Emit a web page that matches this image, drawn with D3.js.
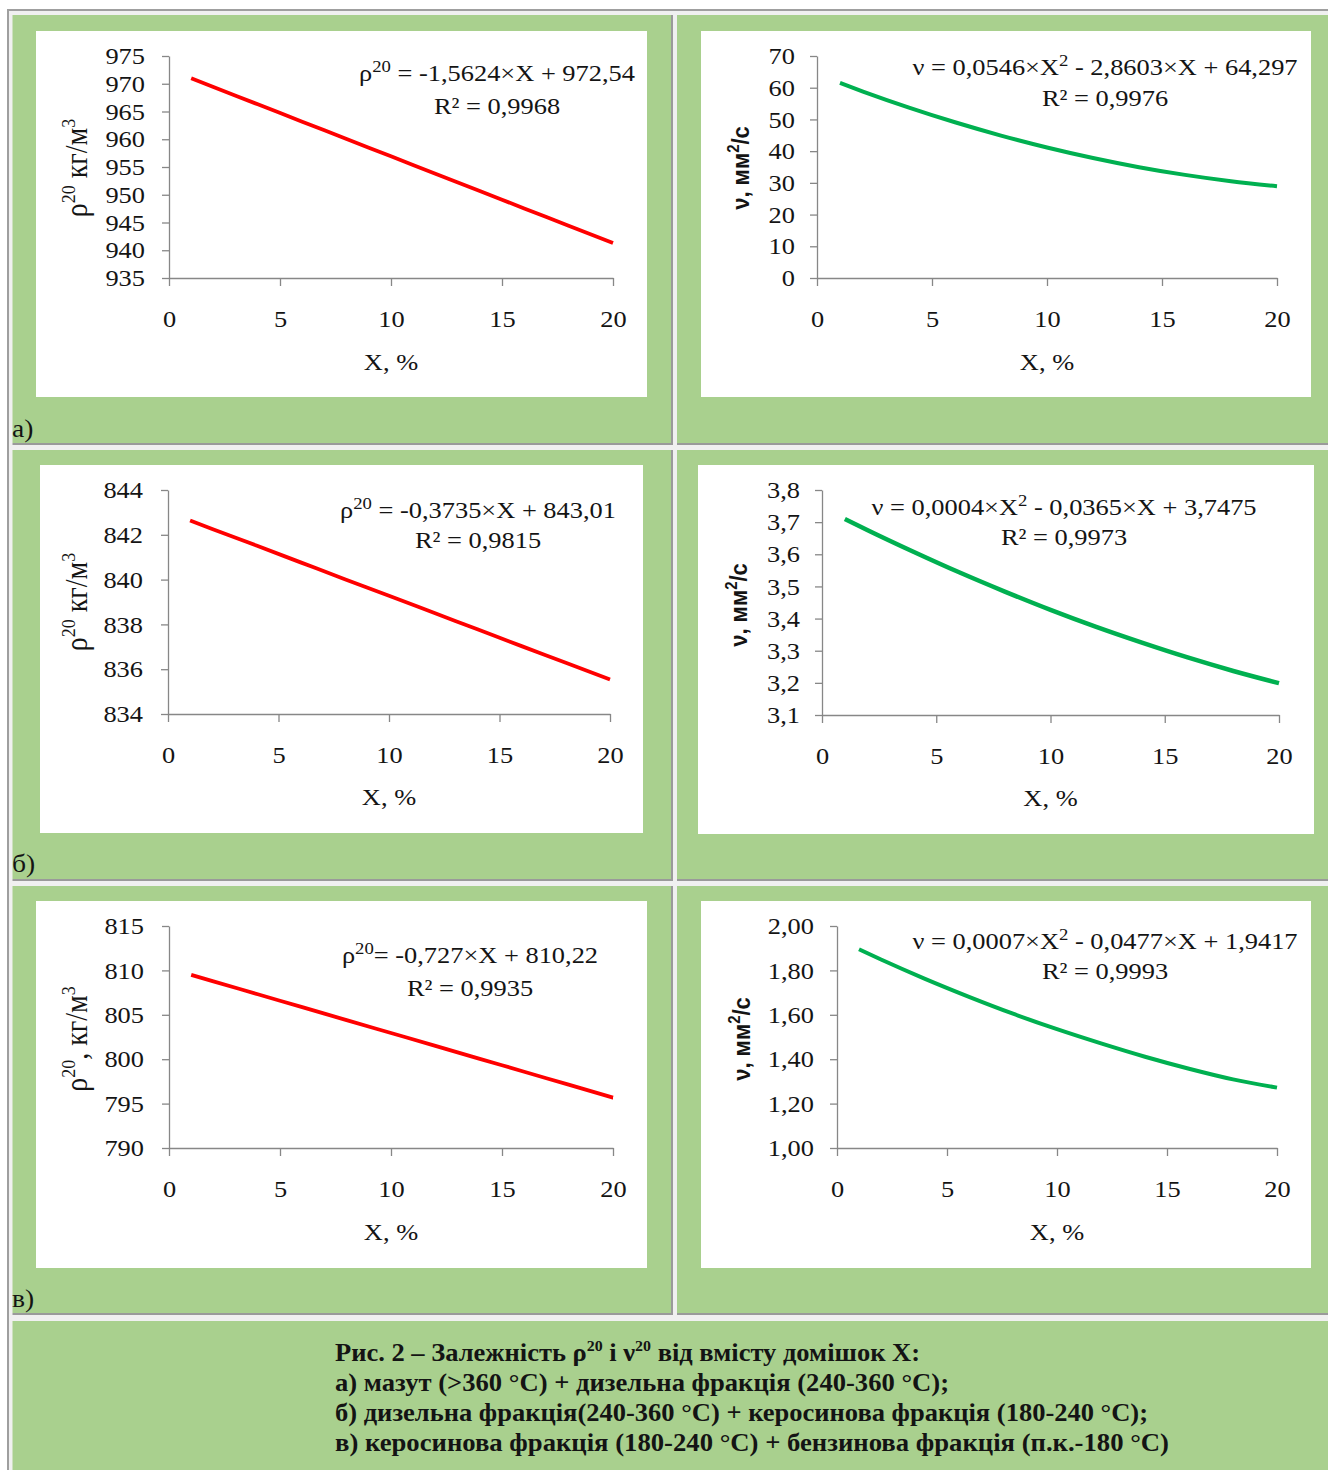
<!DOCTYPE html>
<html>
<head>
<meta charset="utf-8">
<script src="https://cdn.jsdelivr.net/npm/d3@7/dist/d3.min.js"></script>
<style>
  body { margin: 0; background: #fff; }
  svg text { font-family: "Liberation Serif", "Times New Roman", serif; fill: #141414; }
</style>
</head>
<body>
<svg id="fig" width="1328" height="1470"></svg>
<script>
// X, % values along each trend curve
var xs = [1, 2, 4, 6, 8, 10, 12, 14, 16, 18, 20];

// a) mazut + diesel
var rhoA = [970.98, 969.42, 966.29, 963.17, 960.04, 956.92, 953.79, 950.67, 947.54, 944.42, 941.29];
var nuA  = [61.49, 58.79, 53.73, 49.10, 44.91, 41.16, 37.84, 34.95, 32.51, 30.51, 28.93];
// b) diesel + kerosene
var rhoB = [842.64, 842.26, 841.52, 840.77, 840.02, 839.28, 838.53, 837.78, 837.03, 836.29, 835.54];
var nuB  = [3.710, 3.675, 3.608, 3.544, 3.484, 3.427, 3.374, 3.325, 3.279, 3.237, 3.199];
// c) kerosene + gasoline
var rhoC = [809.49, 808.77, 807.31, 805.86, 804.40, 802.95, 801.50, 800.04, 798.59, 797.13, 795.68];
var nuC  = [1.895, 1.849, 1.762, 1.681, 1.605, 1.535, 1.471, 1.411, 1.357, 1.309, 1.272];

// tick labels
var xTicks = [0, 5, 10, 15, 20];
var rhoATicks = [935, 940, 945, 950, 955, 960, 965, 970, 975];
var nuATicks  = [0, 10, 20, 30, 40, 50, 60, 70];
var rhoBTicks = [834, 836, 838, 840, 842, 844];
var nuBTicks  = [3.1, 3.2, 3.3, 3.4, 3.5, 3.6, 3.7, 3.8];
var rhoCTicks = [790, 795, 800, 805, 810, 815];
var nuCTicks  = [1.0, 1.2, 1.4, 1.6, 1.8, 2.0];

// trendline labels
var eqA = ["ρ^{20} = -1,5624×X + 972,54", "R² = 0,9968"];
var eqA2 = ["ν = 0,0546×X^{2} - 2,8603×X + 64,297", "R² = 0,9976"];
var eqB = ["ρ^{20} = -0,3735×X + 843,01", "R² = 0,9815"];
var eqB2 = ["ν = 0,0004×X^{2} - 0,0365×X + 3,7475", "R² = 0,9973"];
var eqC = ["ρ^{20}= -0,727×X + 810,22", "R² = 0,9935"];
var eqC2 = ["ν = 0,0007×X^{2} - 0,0477×X + 1,9417", "R² = 0,9993"];

var caption = [
  "Рис. 2 – Залежність ρ^{20} і ν^{20} від вмісту домішок X:",
  "а) мазут (>360 °С) + дизельна фракція (240-360 °С);",
  "б) дизельна фракція(240-360 °С) + керосинова фракція (180-240 °С);",
  "в) керосинова фракція (180-240 °С) + бензинова фракція (п.к.-180 °С)"
];
var rowLabels = ["а)", "б)", "в)"];

var S = 1.1; // text in the picture is a bit wider than normal Times
var fmtInt = function(d) { return String(d); };
var fmt1 = function(d) { return d3.format(".1f")(d).replace(".", ","); };
var fmt2 = function(d) { return d3.format(".2f")(d).replace(".", ","); };

var svg = d3.select("#fig");

// ---- table frame ----
svg.append("rect").attr("x", 9).attr("y", 11).attr("width", 1319).attr("height", 1459).attr("fill", "#f0f0f0");
svg.append("rect").attr("x", 7).attr("y", 9).attr("width", 1321).attr("height", 2).attr("fill", "#9f9f9f");
svg.append("rect").attr("x", 7).attr("y", 9).attr("width", 2).attr("height", 1461).attr("fill", "#9f9f9f");

var cells = [
  [12.5, 671, 15, 443], [677, 1330, 15, 443],
  [12.5, 671, 450, 879], [677, 1330, 450, 879],
  [12.5, 671, 886, 1313], [677, 1330, 886, 1313],
  [12.5, 1330, 1321, 1472]
];
cells.forEach(function(c) {
  svg.append("rect").attr("x", c[0]).attr("y", c[2]).attr("width", c[1] - c[0]).attr("height", c[3] - c[2]).attr("fill", "#a9d08e");
  svg.append("rect").attr("x", c[0]).attr("y", c[3]).attr("width", c[1] - c[0] + 2).attr("height", 2).attr("fill", "#9a9a9a");
  svg.append("rect").attr("x", c[1]).attr("y", c[2]).attr("width", 2).attr("height", c[3] - c[2] + 2).attr("fill", "#9a9a9a");
});

// text with ^{sup} parts
function richText(sel, str, supSize, shift) {
  var parts = str.split(/\^\{([^}]*)\}/);
  var up = false;
  parts.forEach(function(p, i) {
    if (p === "") { return; }
    if (i % 2 === 1) {
      sel.append("tspan").attr("font-size", supSize).attr("dy", -shift).text(p);
      up = true;
    } else {
      var t = sel.append("tspan").text(p);
      if (up) { t.attr("dy", shift); up = false; }
    }
  });
  return sel;
}

function drawPanel(p) {
  var g = svg.append("g");
  g.append("rect").attr("x", p.box[0]).attr("y", p.box[1])
    .attr("width", p.box[2] - p.box[0]).attr("height", p.box[3] - p.box[1]).attr("fill", "#fff");

  var x = d3.scaleLinear().domain([0, 20]).range([p.plot[0], p.plot[1]]);
  var y = d3.scaleLinear().domain([p.yTicks[0], p.yTicks[p.yTicks.length - 1]]).range([p.plot[3], p.plot[2]]);

  var ya = g.append("g").attr("transform", "translate(" + p.plot[0] + ",0)")
    .call(d3.axisLeft(y).tickValues(p.yTicks).tickFormat(p.fmt).tickSize(7).tickSizeOuter(0));
  ya.selectAll("text").attr("x", -p.yPad / S).attr("transform", "scale(" + S + ",1)");

  var xa = g.append("g").attr("transform", "translate(0," + p.plot[3] + ")")
    .call(d3.axisBottom(x).tickValues(xTicks).tickSize(8).tickSizeOuter(0));
  xa.selectAll("text").attr("y", 49).attr("dy", 0).attr("transform", "scale(" + S + ",1)");

  g.selectAll(".domain, .tick line").attr("stroke", "#878787").attr("stroke-width", 1.3);
  g.selectAll(".tick text").attr("font-size", 24).attr("font-family", "Liberation Serif, serif").attr("fill", "#141414");

  var line = d3.line().x(function(d) { return x(d[0]); }).y(function(d) { return y(d[1]); })
    .curve(d3.curveMonotoneX);
  g.append("path").datum(d3.zip(xs, p.vals))
    .attr("fill", "none").attr("stroke", p.color).attr("stroke-width", p.width)
    .attr("stroke-linecap", "butt").attr("d", line);

  // x title
  g.append("text").attr("text-anchor", "middle").attr("font-size", 24)
    .attr("transform", "translate(" + (p.plot[0] + p.plot[1]) / 2 + "," + p.xTitleY + ") scale(" + S + ",1)")
    .text("X, %");

  // y title
  var yt = g.append("text").attr("text-anchor", "middle")
    .attr("transform", "translate(" + p.yTitle[0] + "," + p.yTitle[1] + ") rotate(-90) scale(1," + S + ")");
  if (p.sans) {
    yt.attr("font-size", 22).attr("font-weight", "bold").style("font-family", "'Liberation Sans', Arial, sans-serif");
    richText(yt, p.yLabel, 15, 9);
  } else {
    yt.attr("font-size", 28);
    richText(yt, p.yLabel, 18, 11);
  }

  // trendline label
  p.eq.forEach(function(s, i) {
    var t = g.append("text").attr("text-anchor", "middle").attr("font-size", 24)
      .attr("transform", "translate(" + p.eqPos[0] + "," + p.eqPos[1 + i] + ") scale(" + S + ",1)");
    richText(t, s, 17, 9);
  });
}

var panels = [
  { box: [36, 31, 647, 397], plot: [169, 613, 56, 278], yTicks: rhoATicks, fmt: fmtInt, yPad: 24,
    vals: rhoA, color: "#ff0000", width: 3.8, xTitleY: 370, yTitle: [87, 168], yLabel: "ρ^{20} кг/м^{3}",
    eq: eqA, eqPos: [497, 81, 114] },
  { box: [701, 31, 1311, 397], plot: [817, 1277, 56, 278], yTicks: nuATicks, fmt: fmtInt, yPad: 22,
    vals: nuA, color: "#00b050", width: 4, xTitleY: 370, yTitle: [749, 168], yLabel: "ν, мм^{2}/с", sans: true,
    eq: eqA2, eqPos: [1105, 75, 106] },
  { box: [40, 465, 643, 833], plot: [168, 610, 490, 714], yTicks: rhoBTicks, fmt: fmtInt, yPad: 25,
    vals: rhoB, color: "#ff0000", width: 3.8, xTitleY: 805, yTitle: [87, 602], yLabel: "ρ^{20} кг/м^{3}",
    eq: eqB, eqPos: [478, 518, 548] },
  { box: [698, 465, 1314, 834], plot: [822, 1279, 490, 715], yTicks: nuBTicks, fmt: fmt1, yPad: 22,
    vals: nuB, color: "#00b050", width: 4.5, xTitleY: 806, yTitle: [747, 605], yLabel: "ν, мм^{2}/с", sans: true,
    eq: eqB2, eqPos: [1064, 515, 545] },
  { box: [36, 901, 647, 1268], plot: [169, 613, 926, 1148], yTicks: rhoCTicks, fmt: fmtInt, yPad: 25,
    vals: rhoC, color: "#ff0000", width: 3.8, xTitleY: 1240, yTitle: [87, 1039], yLabel: "ρ^{20}, кг/м^{3}",
    eq: eqC, eqPos: [470, 963, 996] },
  { box: [701, 901, 1311, 1268], plot: [837, 1277, 926, 1148], yTicks: nuCTicks, fmt: fmt2, yPad: 23,
    vals: nuC, color: "#00b050", width: 4, xTitleY: 1240, yTitle: [750, 1039], yLabel: "ν, мм^{2}/с", sans: true,
    eq: eqC2, eqPos: [1105, 949, 979] }
];
panels.forEach(drawPanel);

// row labels
var labelY = [437, 872, 1307];
rowLabels.forEach(function(l, i) {
  svg.append("text").attr("font-size", 25)
    .attr("transform", "translate(12," + labelY[i] + ") scale(" + S + ",1)").text(l);
});

// caption
var capY = [1361, 1391, 1421, 1451];
var capW = [585, 614, 813, 834];
caption.forEach(function(s, i) {
  var t = svg.append("text").attr("x", 335).attr("y", capY[i])
    .attr("font-size", 25).attr("font-weight", "bold")
    .attr("textLength", capW[i]).attr("lengthAdjust", "spacingAndGlyphs");
  richText(t, s, 15, 10);
});
</script>
</body>
</html>
